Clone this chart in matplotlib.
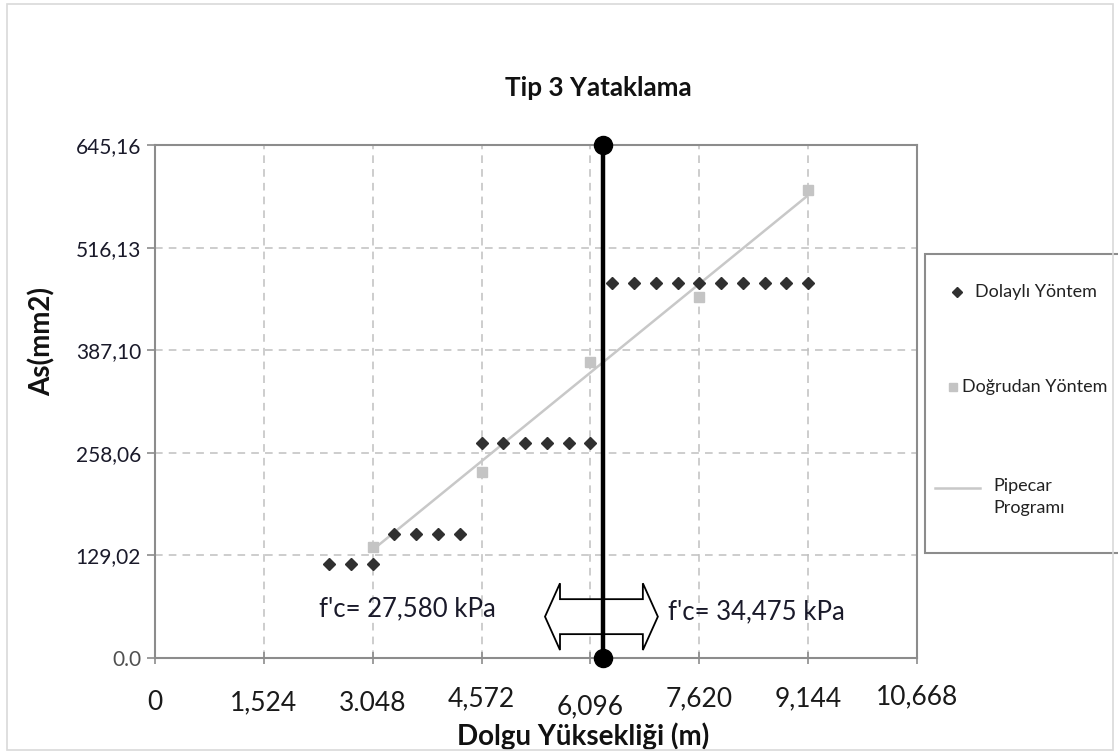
import matplotlib
matplotlib.use("Agg")
import matplotlib.pyplot as plt
from matplotlib.lines import Line2D
from matplotlib.patches import Rectangle, Polygon
from matplotlib.transforms import ScaledTranslation

plt.rcParams['font.family'] = ['Lato', 'DejaVu Sans']

# ---------------- data ----------------
ft = 0.3048
dolayli_x = [n * ft for n in [8, 9, 10, 11, 12, 13, 14, 15, 16, 17, 18, 19, 20,
                              21, 22, 23, 24, 25, 26, 27, 28, 29, 30]]
dolayli_y = [118, 118, 118, 156, 156, 156, 156, 270, 270, 270, 270, 270, 270,
             472, 472, 472, 472, 472, 472, 472, 472, 472, 472]

dogrudan_x = [3.048, 4.572, 6.096, 7.620, 9.144]
dogrudan_y = [140, 234, 372, 454, 589]

pipecar_x = [3.048, 9.144]
pipecar_y = [136, 582]

divider_x = 6.27
y_ticks = [0, 129.02, 258.06, 387.10, 516.13, 645.16]
y_tick_labels = ["0.0", "129,02", "258,06", "387,10", "516,13", "645,16"]
x_ticks = [0, 1.524, 3.048, 4.572, 6.096, 7.620, 9.144, 10.668]
x_tick_labels = ["0", "1,524", "3.048", "4,572", "6,096", "7,620", "9,144", "10,668"]
x_label_dy = [0, 0, -1, 4, -4, 4, 4, 6]   # small vertical offsets (px, up) of the labels

title = "Tip 3 Yataklama"
x_label = "Dolgu Yüksekliği (m)"
y_label = "As(mm2)"
fc_left = "f'c= 27,580 kPa"
fc_right = "f'c= 34,475 kPa"
legend_labels = ["Dolaylı Yöntem", "Doğrudan Yöntem", "Pipecar\nProgramı"]

W, H = 1118, 755
fig = plt.figure(figsize=(W / 100, H / 100), dpi=100)
fig.patch.set_facecolor("white")

def px(x0, y0, x1, y1):
    return [x0 / W, 1 - y1 / H, (x1 - x0) / W, (y1 - y0) / H]

ax = fig.add_axes(px(155, 145, 917, 658))
ax.set_xlim(0, 10.668)
ax.set_ylim(0, 645.16)

dark = "#303030"
lgray = "#c4c4c4"
ax.plot(pipecar_x, pipecar_y, color="#c8c8c8", lw=1.8, zorder=3)
ax.plot(dogrudan_x, dogrudan_y, ls="none", marker="s", ms=7, color=lgray, zorder=4)
ax.plot(dolayli_x, dolayli_y, ls="none", marker="D", ms=5.8, color=dark, zorder=5)

# double hollow arrow
a_l, a_r = 5.46, 7.04
a_y = 52
head_len = 0.21
head_h = 42
shaft_h = 22
poly = [(a_l, a_y), (a_l + head_len, a_y + head_h), (a_l + head_len, a_y + shaft_h),
        (a_r - head_len, a_y + shaft_h), (a_r - head_len, a_y + head_h), (a_r, a_y),
        (a_r - head_len, a_y - head_h), (a_r - head_len, a_y - shaft_h),
        (a_l + head_len, a_y - shaft_h), (a_l + head_len, a_y - head_h)]
ax.add_patch(Polygon(poly, closed=True, fc="white", ec="black", lw=1.3, zorder=6,
                     joinstyle="miter"))

# divider line
ax.plot([divider_x, divider_x], [0, 645.16], color="black", lw=3.2, zorder=7,
        marker="o", ms=13, clip_on=False, solid_capstyle="butt")

ax.text(3.54, 62, fc_left, ha="center", va="center", fontsize=18.5, color="#1a1a2a")
ax.text(7.18, 58, fc_right, ha="left", va="center", fontsize=18.5, color="#1a1a2a")

# grid and spines
ax.set_xticks(x_ticks)
ax.set_yticks(y_ticks)
ax.grid(True, color="#c0c0c0", ls=(0, (5, 4)), lw=1.1)
ax.set_axisbelow(True)
for s in ax.spines.values():
    s.set_color("#8c8c8c")
    s.set_linewidth(1.5)
ax.tick_params(axis="x", direction="inout", length=8, width=1.2, color="#8c8c8c",
               pad=19, labelsize=19, labelcolor="#1a1a1a")
ax.tick_params(axis="y", direction="out", length=6, width=1.2, color="#8c8c8c",
               pad=4, labelsize=15, labelcolor="#1a1a2a")
ax.set_xticklabels(x_tick_labels)
ax.set_yticklabels(y_tick_labels)
ax.get_yticklabels()[0].set_color("#505050")
for lab, dy in zip(ax.get_xticklabels(), x_label_dy):
    lab.set_transform(lab.get_transform() + ScaledTranslation(0, dy / 100, fig.dpi_scale_trans))

ax.set_title(title, fontsize=18.8, fontweight="bold", pad=35, color="#111111",
             x=(598 - 155) / 762)
ax.set_xlabel(x_label, fontsize=20, fontweight="bold", color="#111111")
ax.xaxis.set_label_coords((583 - 155) / 762, (658 - 722) / 513)
ax.set_ylabel(y_label, fontsize=20, fontweight="bold", color="#111111")
ax.yaxis.set_label_coords((56 - 155) / 762, (658 - 341) / 513)

# manual legend
fig.add_artist(Rectangle((925 / W, 1 - 553 / H), (1122 - 925) / W, (553 - 254) / H,
                         transform=fig.transFigure, fc="white", ec="#8c8c8c", lw=1.5))
fig.add_artist(Line2D([957 / W], [1 - 292 / H], marker="D", ms=5.5, color=dark,
                      transform=fig.transFigure))
fig.text(975 / W, 1 - 292 / H, legend_labels[0], fontsize=13, va="center", color="#222")
fig.add_artist(Line2D([953 / W], [1 - 387 / H], marker="s", ms=6, color=lgray,
                      transform=fig.transFigure))
fig.text(962 / W, 1 - 387 / H, legend_labels[1], fontsize=13, va="center", color="#222")
fig.add_artist(Line2D([935 / W, 980 / W], [1 - 488 / H, 1 - 488 / H], lw=1.8,
                      color="#c8c8c8", transform=fig.transFigure))
fig.text(993 / W, 1 - 497 / H, legend_labels[2], fontsize=13, va="center", color="#222",
         linespacing=1.5)

# outer frame
fig.add_artist(Rectangle((7 / W, 1 - 750 / H), (1113 - 7) / W, (750 - 4) / H,
                         transform=fig.transFigure, fill=False, ec="#d9d9d9", lw=1.2))

fig.savefig("out.png", dpi=100)
